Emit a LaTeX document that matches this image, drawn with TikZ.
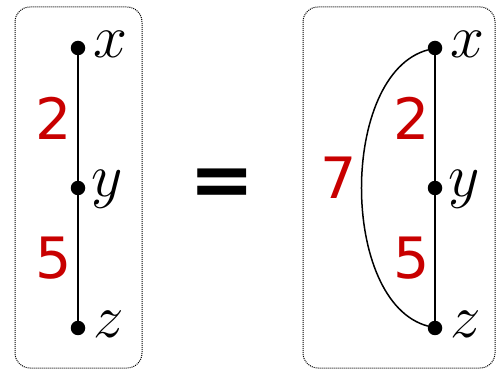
\RequirePackage{fix-cm}
\documentclass[tikz,border=0pt]{standalone}
\usepackage{fontspec}
\newfontfamily\numfont{DejaVu Sans}
\usetikzlibrary{positioning}
\definecolor{wred}{RGB}{200,0,0}

\begin{document}
\begin{tikzpicture}[x=1pt, y=1pt,
    vert/.style={circle, fill=black, inner sep=0pt, minimum size=14.5pt},
    vname/.style={anchor=base west, inner sep=0pt, font=\fontsize{61}{61}\selectfont},
    wt/.style={text=wred, inner sep=0pt, font=\numfont\fontsize{57}{57}\selectfont},
    frame/.style={draw, densely dotted, line width=1pt, rounded corners=15pt},
    edge/.style={line width=1.5pt}
]
\useasboundingbox (0,0) rectangle (496,370);

% left path
\draw[frame] (15,2) rectangle (142,363);
\node[vert] (x1) at (78,322) {};
\node[vert] (y1) at (78,182) {};
\node[vert] (z1) at (78,42) {};
\node[vname] (lx1) at ([shift={(15,-10)}]x1.center) {$x$};
\node[vname] (ly1) at ([shift={(13,-9)}]y1.center) {$y$};
\node[vname] (lz1) at ([shift={(15,-10)}]z1.center) {$z$};
\draw[edge] (x1) -- node[wt, left=5pt] (w1a) {2} (y1);
\draw[edge] (y1) -- node[wt, left=5pt] (w1b) {5} (z1);

\node[font=\numfont\bfseries\fontsize{78}{78}\selectfont] (eq) at (222,182) {=};

% right path with shortcut
\draw[frame] (303,2) rectangle (495,363);
\node[vert] (x2) at (435,322) {};
\node[vert] (y2) at (435,182) {};
\node[vert] (z2) at (435,42) {};
\node[vname] (lx2) at ([shift={(15,-10)}]x2.center) {$x$};
\node[vname] (ly2) at ([shift={(13,-9)}]y2.center) {$y$};
\node[vname] (lz2) at ([shift={(15,-10)}]z2.center) {$z$};
\draw[edge] (x2) -- node[wt, left=4pt] (w2a) {2} (y2);
\draw[edge] (y2) -- node[wt, left=4pt] (w2b) {5} (z2);
\draw[edge] (x2) to[out=195, in=165, looseness=0.85]
    node[wt, left=4pt, yshift=10pt] (w2c) {7} (z2);
\end{tikzpicture}
\end{document}
